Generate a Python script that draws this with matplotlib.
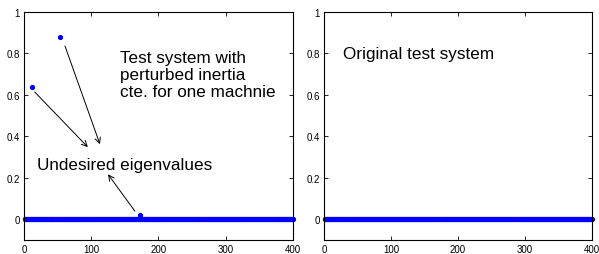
import numpy as np
import matplotlib.pyplot as plt

plt.rcParams['font.family'] = ['Liberation Sans', 'DejaVu Sans']

# eigenvalue index and value (most are zero)
n_eig = 400
idx = np.arange(1, n_eig + 1)
orig_vals = np.zeros(n_eig)

# perturbed system: same zeros plus three undesired eigenvalues
pert_idx = [12, 54, 173]
pert_vals = [0.64, 0.88, 0.02]
pert_base = np.zeros(n_eig)

xticks = [0, 100, 200, 300, 400]
yticks = [0, 0.2, 0.4, 0.6, 0.8, 1]
yticklabels = ['0', '0.2', '0.4', '0.6', '0.8', '1']

fig = plt.figure(figsize=(5.99, 2.55), dpi=100)
ax1 = fig.add_axes([0.040, 0.055, 0.449, 0.894])
ax2 = fig.add_axes([0.541, 0.055, 0.447, 0.894])

blue = (0, 0, 1)

def style(ax):
    ax.set_xlim(0, 400)
    ax.set_ylim(-0.1, 1)
    ax.set_xticks(xticks)
    ax.set_xticklabels([str(t) for t in xticks])
    ax.set_yticks(yticks)
    ax.set_yticklabels(yticklabels)
    ax.tick_params(direction='in', length=3, width=0.6, labelsize=7,
                   top=True, right=True, pad=3)
    for s in ax.spines.values():
        s.set_linewidth(0.8)

# left panel
ax1.plot(idx, pert_base, '.', color=blue, markersize=5.5, clip_on=False)
ax1.plot(pert_idx, pert_vals, '.', color=blue, markersize=5.5)
style(ax1)
ax1.text(143, 0.815, 'Test system with\nperturbed inertia\ncte. for one machnie',
         fontsize=12.3, va='top', ha='left', linespacing=1.15)
ax1.text(19, 0.266, 'Undesired eigenvalues', fontsize=12.3, va='center', ha='left')
arr = dict(arrowstyle='->', color='black', lw=0.7, shrinkA=0, shrinkB=0)
ax1.annotate('', xy=(113, 0.362), xytext=(61, 0.836), arrowprops=arr)
ax1.annotate('', xy=(95, 0.348), xytext=(16, 0.614), arrowprops=arr)
ax1.annotate('', xy=(125, 0.217), xytext=(165, 0.039), arrowprops=arr)

# right panel
ax2.plot(idx, orig_vals, '.', color=blue, markersize=5.5, clip_on=False)
style(ax2)
ax2.text(28, 0.80, 'Original test system', fontsize=12.3, va='center', ha='left')

fig.savefig('out.png', dpi=100)
